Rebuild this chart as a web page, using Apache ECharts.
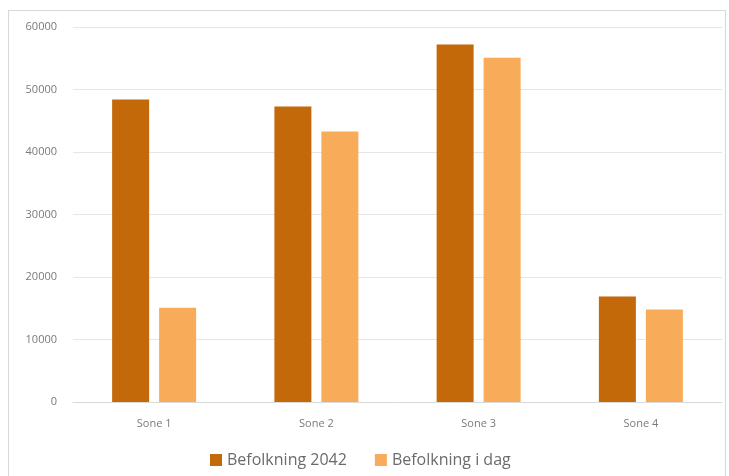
<!DOCTYPE html>
<html>
<head>
<meta charset="utf-8">
<script src="https://cdn.jsdelivr.net/npm/echarts@6/dist/echarts.min.js"></script>
<style>
  html, body { margin: 0; padding: 0; background: #fff; }
  #frame {
    position: absolute; left: 8px; top: 10px; width: 718px; height: 480px;
    border: 1px solid #d9d9d9; box-sizing: border-box;
  }
  #chart { position: absolute; left: 0; top: 0; width: 729px; height: 476px; }
</style>
</head>
<body>
<div id="frame"></div>
<div id="chart"></div>
<script>
const categories = ["Sone 1", "Sone 2", "Sone 3", "Sone 4"];
const befolkning2042 = [48400, 47300, 57200, 16900];
const befolkningIDag = [15100, 43300, 55100, 14800];

const chart = echarts.init(document.getElementById("chart"));
chart.setOption({
  animation: false,
  grid: { left: 73, right: 7, top: 27, bottom: 74 },
  legend: {
    left: 205,
    top: 447,
    itemWidth: 12,
    itemHeight: 12,
    itemGap: 28,
    icon: "rect",
    textStyle: { fontFamily: "Open Sans", fontSize: 16, color: "#6b6b6b" },
    data: ["Befolkning 2042", "Befolkning i dag"]
  },
  xAxis: {
    type: "category",
    data: categories,
    axisLine: { lineStyle: { color: "#d9d9d9" } },
    axisTick: { show: false },
    axisLabel: { color: "#7a7a7a", fontFamily: "Open Sans", fontSize: 11, margin: 16 }
  },
  yAxis: {
    type: "value",
    min: 0,
    max: 60000,
    interval: 10000,
    axisLine: { show: false },
    axisTick: { show: false },
    splitLine: { lineStyle: { color: "#e6e6e6" } },
    axisLabel: {
      color: "#7a7a7a", fontFamily: "Open Sans", fontSize: 11, margin: 16,
      formatter: function (v) { return String(v); }
    }
  },
  series: [
    {
      name: "Befolkning 2042",
      type: "bar",
      data: befolkning2042,
      barWidth: 37,
      barGap: "27%",
      itemStyle: { color: "#c3690a" }
    },
    {
      name: "Befolkning i dag",
      type: "bar",
      data: befolkningIDag,
      barWidth: 37,
      itemStyle: { color: "#f8ab59" }
    }
  ]
});
</script>
</body>
</html>
